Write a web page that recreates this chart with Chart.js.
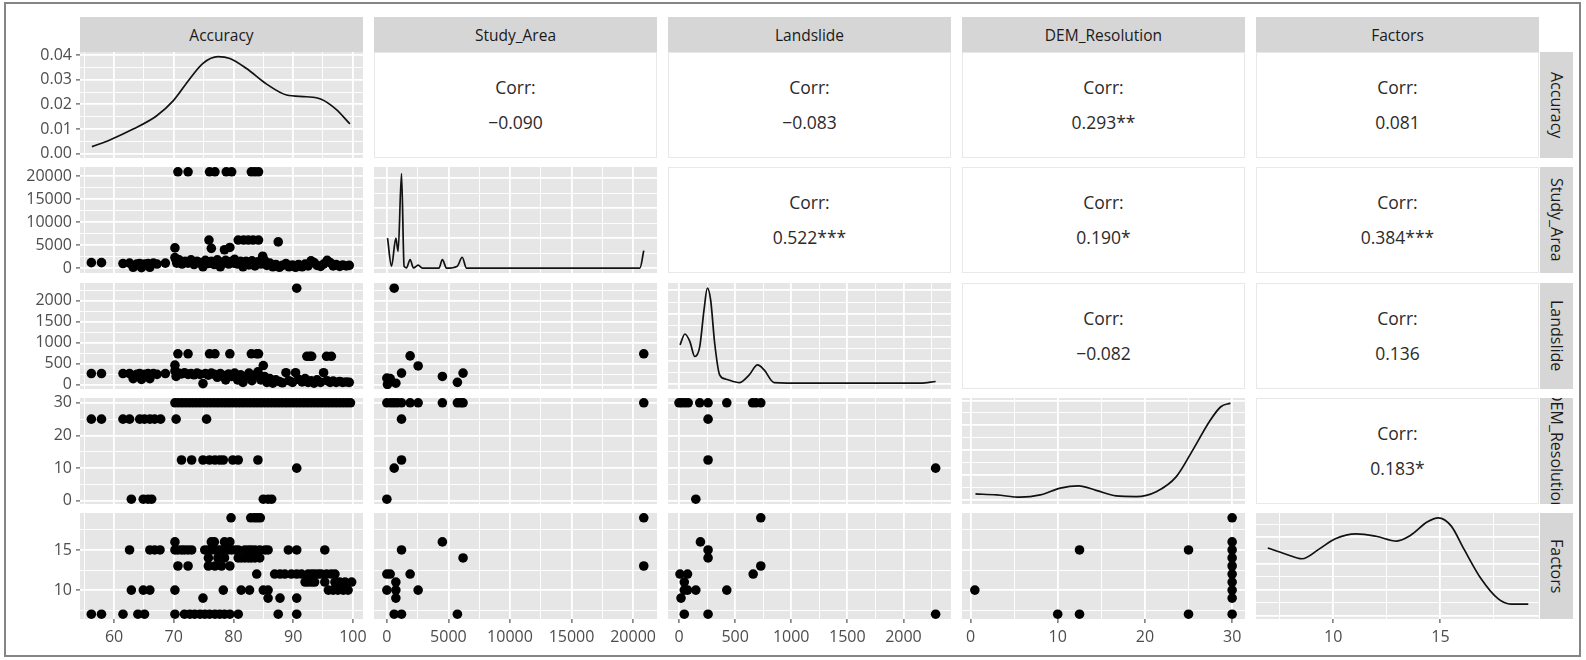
<!DOCTYPE html>
<html>
<head>
<meta charset="utf-8">
<script src="https://cdn.jsdelivr.net/npm/chart.js@4.4.1/dist/chart.umd.min.js"></script>
<style>
  body { margin: 0; width: 1586px; height: 660px; overflow: hidden; background: #fff; font-family: 'Open Sans', sans-serif; position: relative; }
  #frame { position: absolute; left: 4px; top: 2px; width: 1573px; height: 651px; border: 2px solid #858585; }
  .strip { position: absolute; background: #D6D6D6; color: #1a1a1a; font-size: 15.5px; display: flex; align-items: center; justify-content: center; overflow: hidden; white-space: nowrap; }
  .strip.side { writing-mode: vertical-rl; font-size: 16px; }
  .corr { position: absolute; box-sizing: border-box; background: #fff; border: 1px solid #e8e8e8; display: flex; flex-direction: column; align-items: center; justify-content: center; color: #2b2b2b; font-size: 17.5px; line-height: 35px; }
  canvas { position: absolute; }
</style>
</head>
<body>
<div id="frame"></div>
<script>
// ---- variables and axes ----
const varNames = ['Accuracy', 'Study_Area', 'Landslide', 'DEM_Resolution', 'Factors'];
const varRanges = [[54.3, 101.7], [-1045, 21945], [-98, 2424], [-0.975, 31.475], [6.4, 19.6]];
const majorTicks = [[60, 70, 80, 90, 100], [0, 5000, 10000, 15000, 20000], [0, 500, 1000, 1500, 2000], [0, 10, 20, 30], [10, 15]];
const minorTicks = [[55, 65, 75, 85, 95], [2500, 7500, 12500, 17500], [250, 750, 1250, 1750, 2250], [5, 15, 25], [7.5, 12.5, 17.5]];

// the first diagonal panel carries the density scale on the left
const densityRange = [-0.0017, 0.0412];
const densityMajor = [0, 0.01, 0.02, 0.03, 0.04];
const densityMinor = [0.005, 0.015, 0.025, 0.035];

// horizontal grid of the other diagonal panels, in row units
const diagMajor = [null, [0, 6500, 13000, 19500], [24, 580, 1136, 1692, 2248], [0.3, 7.9, 15.5, 23.1, 30.7], [6.8, 10.06, 13.32, 16.58]];
const diagMinor = [null, [3250, 9750, 16250], [302, 858, 1414, 1970], [4.1, 11.7, 19.3, 26.9], [8.43, 11.69, 14.95, 18.21]];

// ---- correlations (upper triangle) ----
const corrRow0 = [null, '−0.090', '−0.083', '0.293**', '0.081'];
const corrRow1 = [null, null, '0.522***', '0.190*', '0.384***'];
const corrRow2 = [null, null, null, '−0.082', '0.136'];
const corrRow3 = [null, null, null, null, '0.183*'];

// ---- density curves (diagonal), y in row units except the first ----
const accuracyDensity = [[56.3, 0.0029], [59.3, 0.0056], [63.2, 0.0100], [67.1, 0.0153], [69.9, 0.0214], [72.7, 0.0304], [74.9, 0.0366], [77.4, 0.0393], [79.4, 0.0386], [82.2, 0.0345], [85.5, 0.0283], [88.9, 0.0238], [92.2, 0.0231], [94.7, 0.0221], [97.2, 0.0180], [99.5, 0.0121]];
const studyDensity = [[54, 6500], [380, 430], [730, 6500], [915, 3650], [1190, 20500], [1400, 430], [1590, 70], [1890, 1870], [2160, 70], [2540, 650], [2890, 0], [4230, 0], [4510, 1870], [4850, 0], [5720, 430], [6120, 2370], [6470, 0], [20550, 0], [20870, 3800]];
const landslideDensity = [[9, 950], [53, 1210], [97, 1030], [141, 675], [185, 910], [223, 1785], [253, 2300], [282, 2020], [318, 990], [362, 240], [420, 135], [538, 55], [626, 240], [700, 475], [759, 355], [847, 55], [1126, 40], [2155, 40], [2287, 80]];
const demDensity = [[0.57, 2.1], [3.0, 1.8], [5.7, 1.1], [8.0, 1.8], [10.3, 3.9], [12.4, 4.6], [14.4, 3.2], [16.7, 1.5], [19.0, 1.3], [21.3, 2.8], [23.6, 7.4], [25.5, 15.6], [27.4, 24.3], [28.7, 28.8], [29.8, 29.9]];
const factorsDensity = [[6.95, 15.25], [7.77, 14.5], [8.55, 13.9], [9.34, 15.1], [10.1, 16.4], [11.07, 17.0], [12.0, 16.7], [12.96, 16.1], [13.6, 16.8], [14.4, 18.5], [14.9, 19.0], [15.5, 18.0], [16.1, 15.1], [16.9, 11.4], [17.7, 8.9], [18.3, 8.25], [19.1, 8.25]];

// ---- scatter panels (lower triangle), [x, y] ----
const studyVsAccuracy = [
  [56.2, 1200], [57.9, 1200], [61.5, 1000], [62.6, 1100], [63.2, 200], [63.8, 900], [64.3, 1000], [64.6, 100], [65.1, 900], [65.7, 1000], [66.0, 200], [66.6, 1100], [67.2, 900], [68.6, 1100],
  [70.2, 4400], [70.2, 2300], [70.4, 1700], [70.5, 1100], [70.9, 1800], [71.4, 900], [71.9, 1500], [72.4, 1100], [72.9, 1800], [73.4, 800], [73.9, 1500], [74.4, 1100], [74.9, 300], [75.3, 1700], [75.8, 1000], [76.3, 1500], [76.8, 800], [77.3, 1800], [77.8, 300], [78.2, 1200], [78.7, 1700], [79.2, 900], [79.7, 1500], [80.2, 1900], [80.7, 900], [81.2, 1500], [81.6, 300], [82.1, 1100], [82.6, 700], [83.1, 1600], [83.6, 500], [84.1, 1400], [84.6, 900], [84.9, 2600], [85.2, 1700],
  [71.1, 1200], [72.1, 1300], [73.1, 1200], [74.1, 1300], [75.1, 1200], [76.1, 1100], [77.1, 1200], [78.1, 1300], [79.1, 1200], [80.1, 1100], [81.1, 1000], [82.1, 1500], [83.1, 1000], [84.1, 1000],
  [70.7, 20900], [72.4, 20900], [76.0, 20900], [76.9, 20900], [78.8, 20900], [79.7, 20900], [83.0, 20900], [83.6, 20900], [84.2, 20900],
  [75.9, 6100], [76.3, 4300], [78.5, 4000], [79.4, 4500], [80.8, 6100], [81.7, 6100], [82.5, 6100], [83.3, 6100], [84.2, 6100], [87.5, 5700],
  [85.6, 600], [86.1, 1100], [86.6, 300], [87.1, 800], [87.7, 200], [88.2, 600], [88.8, 1000], [89.3, 300], [89.9, 700], [90.4, 200], [90.9, 800], [91.5, 300], [92.0, 900], [92.5, 500], [93.0, 1600], [93.5, 1200], [94.0, 600], [94.6, 400], [95.1, 900], [95.7, 1700], [96.2, 1200], [96.7, 500], [97.2, 800], [97.8, 400], [98.3, 700], [98.9, 500], [99.4, 600]
];
const landslideVsAccuracy = [
  [90.6, 2300],
  [70.7, 740], [72.4, 740], [76.0, 740], [76.9, 740], [79.4, 740], [83.0, 740], [83.9, 740], [84.2, 740],
  [92.3, 680], [92.8, 680], [93.1, 680], [95.6, 680], [96.4, 680], [70.2, 470], [85.0, 460],
  [56.2, 270], [57.9, 270], [61.5, 270], [62.6, 270], [63.2, 150], [63.8, 250], [64.3, 270], [64.6, 130], [65.1, 250], [65.7, 270], [66.0, 150], [66.6, 270], [67.2, 250], [68.6, 270],
  [70.2, 330], [70.4, 200], [70.8, 280], [71.3, 260], [71.8, 290], [72.4, 250], [72.9, 270], [73.4, 240], [73.9, 280], [74.4, 250], [74.9, 30], [75.3, 270], [75.8, 230], [76.3, 280], [76.8, 250], [77.3, 180], [77.8, 270], [78.2, 220], [78.7, 120], [79.2, 260], [79.7, 200], [80.2, 280], [80.7, 120], [81.2, 240], [81.6, 60], [82.1, 200], [82.6, 280], [83.1, 100], [83.6, 230], [84.1, 310], [84.6, 120],
  [85.2, 200], [85.6, 60], [86.1, 150], [86.6, 40], [87.1, 120], [87.7, 80], [88.2, 50], [88.8, 290], [89.3, 100], [89.9, 60], [90.4, 290], [90.9, 130], [91.5, 70], [92.0, 150], [92.5, 60], [93.0, 100], [93.5, 40], [94.0, 120], [94.6, 60], [95.1, 290], [95.7, 100], [96.2, 60], [96.7, 90], [97.2, 60], [97.8, 80], [98.3, 60], [98.9, 70], [99.4, 60]
];
const demVsAccuracy = [
  [70.2, 30], [70.8, 30], [71.4, 30], [72.0, 30], [72.6, 30], [73.2, 30], [73.8, 30], [74.4, 30], [75.0, 30], [75.6, 30], [76.2, 30], [76.8, 30], [77.4, 30], [78.0, 30], [78.6, 30], [79.2, 30], [79.8, 30], [80.4, 30], [81.0, 30], [81.6, 30], [82.2, 30], [82.8, 30], [83.4, 30], [84.0, 30], [84.6, 30],
  [85.2, 30], [85.8, 30], [86.4, 30], [87.0, 30], [87.6, 30], [88.2, 30], [88.8, 30], [89.4, 30], [90.0, 30], [90.6, 30], [91.2, 30], [91.8, 30], [92.4, 30], [93.0, 30], [93.6, 30], [94.2, 30], [94.8, 30], [95.4, 30], [96.0, 30], [96.6, 30], [97.2, 30], [97.8, 30], [98.4, 30], [99.0, 30], [99.6, 30],
  [56.2, 25], [57.9, 25], [61.5, 25], [62.6, 25], [64.3, 25], [65.1, 25], [66.0, 25], [66.8, 25], [67.8, 25], [70.4, 25], [75.5, 25],
  [71.3, 12.5], [73.0, 12.5], [74.9, 12.5], [76.0, 12.5], [76.9, 12.5], [77.7, 12.5], [78.3, 12.5], [79.9, 12.5], [80.8, 12.5], [84.1, 12.5],
  [90.6, 10],
  [62.9, 0.5], [64.9, 0.5], [65.7, 0.5], [66.3, 0.5], [85.0, 0.5], [85.8, 0.5], [86.4, 0.5]
];
const factorsVsAccuracy = [
  [79.6, 19], [82.9, 19], [83.5, 19], [84.0, 19], [84.5, 19],
  [70.2, 16], [76.3, 16], [76.8, 16], [78.5, 16], [79.4, 16],
  [62.6, 15], [66.0, 15], [66.8, 15], [67.7, 15], [70.2, 15], [70.7, 15], [71.3, 15], [71.8, 15], [72.4, 15], [73.0, 15], [75.2, 15], [75.8, 15], [76.3, 15], [76.9, 15], [77.5, 15], [78.0, 15], [78.6, 15], [79.1, 15], [79.7, 15], [80.3, 15], [80.8, 15], [81.9, 15], [82.5, 15], [83.0, 15], [83.6, 15], [84.4, 15], [85.3, 15], [85.8, 15], [89.2, 15], [90.6, 15], [95.3, 15],
  [75.8, 14], [77.4, 14], [78.5, 14], [80.8, 14], [81.3, 14], [81.9, 14], [82.5, 14], [83.0, 14], [83.6, 14], [84.4, 14],
  [70.7, 13], [72.4, 13], [75.8, 13], [76.9, 13], [78.0, 13], [79.4, 13],
  [83.9, 12], [86.9, 12], [87.8, 12], [88.6, 12], [89.7, 12], [90.6, 12], [91.4, 12], [92.5, 12], [93.1, 12], [93.6, 12], [94.2, 12], [94.7, 12], [95.6, 12], [96.4, 12], [97.0, 12],
  [92.0, 11], [92.5, 11], [93.1, 11], [93.6, 11], [95.3, 11], [97.0, 11], [97.8, 11], [98.7, 11], [99.8, 11],
  [62.9, 10], [64.9, 10], [66.0, 10], [70.2, 10], [78.3, 10], [81.3, 10], [82.7, 10], [85.0, 10], [85.8, 10], [95.9, 10], [96.7, 10], [97.5, 10], [98.4, 10], [99.2, 10],
  [74.9, 9], [85.8, 9], [87.8, 9], [90.6, 9],
  [56.2, 7], [57.9, 7], [61.5, 7], [64.0, 7], [65.1, 7], [70.2, 7], [71.8, 7], [72.7, 7], [73.5, 7], [74.4, 7], [75.2, 7], [76.0, 7], [76.9, 7], [77.7, 7], [78.5, 7], [79.4, 7], [80.8, 7], [87.5, 7], [90.6, 7]
];
const landslideVsStudy = [[595, 2300], [20870, 740], [1890, 690], [2540, 450], [1190, 280], [4510, 200], [6190, 280], [5730, 60], [0, 160], [190, 80], [730, 40], [270, 150], [50, 10]];
const demVsStudy = [[0, 30], [320, 30], [595, 30], [865, 30], [1190, 30], [1890, 30], [2540, 30], [4510, 30], [5730, 30], [6000, 30], [6190, 30], [20870, 30], [1190, 25], [1190, 12.5], [595, 10], [0, 0.5]];
const factorsVsStudy = [[20870, 19], [4510, 16], [1190, 15], [6190, 14], [20870, 13], [0, 12], [270, 12], [1890, 12], [730, 11], [0, 10], [730, 10], [2540, 10], [730, 9], [595, 7], [1190, 7], [5730, 7]];
const demVsLandslide = [[0, 30], [24, 30], [53, 30], [82, 30], [185, 30], [259, 30], [426, 30], [656, 30], [685, 30], [729, 30], [259, 25], [259, 12.5], [2287, 10], [150, 0.5]];
const factorsVsLandslide = [[729, 19], [191, 16], [259, 15], [259, 14], [729, 13], [661, 12], [9, 12], [76, 12], [47, 11], [47, 10], [76, 10], [150, 10], [426, 10], [18, 9], [47, 7], [259, 7], [2287, 7]];
const factorsVsDem = [[0.5, 10], [10, 7], [12.5, 15], [12.5, 7], [25, 15], [25, 7], [30, 19], [30, 16], [30, 15], [30, 14], [30, 13], [30, 12], [30, 11], [30, 10], [30, 9], [30, 7]];

const corrValues = [corrRow0, corrRow1, corrRow2, corrRow3];
const diagCurves = [accuracyDensity, studyDensity, landslideDensity, demDensity, factorsDensity];
const lowerPoints = {
  '1-0': studyVsAccuracy, '2-0': landslideVsAccuracy, '3-0': demVsAccuracy, '4-0': factorsVsAccuracy,
  '2-1': landslideVsStudy, '3-1': demVsStudy, '4-1': factorsVsStudy,
  '3-2': demVsLandslide, '4-2': factorsVsLandslide,
  '4-3': factorsVsDem
};

// ---- layout ----
const colLeft = [80, 374, 668, 962, 1256];
const rowTop = [52, 167, 283, 398, 513];
const panelW = 283, panelH = 106;
const M = 20, axisW = 80, axisH = 38;

Chart.defaults.font.family = "'Open Sans', sans-serif";

const panelBg = {
  id: 'panelBg',
  beforeDraw(chart) {
    const { ctx, chartArea: a } = chart;
    ctx.save();
    ctx.fillStyle = '#E6E6E6';
    ctx.fillRect(a.left, a.top, a.right - a.left, a.bottom - a.top);
    ctx.restore();
  }
};

function addDiv(cls, left, top, w, h, html) {
  const d = document.createElement('div');
  d.className = cls;
  d.style.left = left + 'px';
  d.style.top = top + 'px';
  d.style.width = w + 'px';
  d.style.height = h + 'px';
  d.innerHTML = html;
  document.body.appendChild(d);
  return d;
}

function axis(range, major, minor, showLabels, fmt, sizeKey, size) {
  const all = major.concat(minor).sort((a, b) => a - b);
  const isMajor = v => major.includes(v);
  return {
    type: 'linear',
    min: range[0],
    max: range[1],
    afterBuildTicks: s => { s.ticks = all.map(v => ({ value: v })); },
    afterFit: s => { s[sizeKey] = size; },
    ticks: {
      display: showLabels,
      autoSkip: false,
      maxRotation: 0,
      minRotation: 0,
      padding: sizeKey === 'width' ? 4 : 5,
      color: '#4d4d4d',
      font: { size: 16 },
      callback: v => isMajor(v) ? fmt(v) : ''
    },
    grid: {
      color: '#fff',
      lineWidth: c => (c.tick && isMajor(c.tick.value)) ? 1.8 : 0.9,
      drawTicks: showLabels,
      tickLength: 4,
      tickWidth: 1.1,
      tickColor: c => (c.tick && isMajor(c.tick.value)) ? '#444' : 'rgba(0,0,0,0)'
    },
    border: { display: false }
  };
}

function buildPanel(r, c) {
  const padL = c === 0 ? 0 : M;
  const yW = c === 0 ? axisW : 0;
  const xH = r === 4 ? axisH : 0;
  const cv = document.createElement('canvas');
  cv.width = padL + yW + panelW + M;
  cv.height = M + panelH + xH + M;
  cv.style.left = (colLeft[c] - yW - padL) + 'px';
  cv.style.top = (rowTop[r] - M) + 'px';
  document.body.appendChild(cv);

  const xAxis = axis(varRanges[c], majorTicks[c], minorTicks[c], r === 4, v => String(v), 'height', xH);
  let yAxis, dataset;
  if (r === c) {
    if (r === 0) {
      yAxis = axis(densityRange, densityMajor, densityMinor, true, v => v.toFixed(2), 'width', yW);
    } else {
      yAxis = axis(varRanges[r], diagMajor[r], diagMinor[r], false, v => String(v), 'width', yW);
    }
    dataset = {
      data: diagCurves[r].map(([x, y]) => ({ x, y })),
      showLine: true,
      pointRadius: 0,
      borderColor: '#111',
      borderWidth: 1.7,
      cubicInterpolationMode: 'monotone'
    };
  } else {
    yAxis = axis(varRanges[r], majorTicks[r], minorTicks[r], c === 0, v => String(v), 'width', yW);
    dataset = {
      data: lowerPoints[r + '-' + c].map(([x, y]) => ({ x, y })),
      pointRadius: 4.8,
      pointBackgroundColor: '#000',
      pointBorderWidth: 0
    };
  }

  new Chart(cv, {
    type: 'scatter',
    data: { datasets: [dataset] },
    options: {
      responsive: false,
      animation: false,
      layout: { padding: { left: padL, right: M, top: M, bottom: M } },
      plugins: { legend: { display: false }, tooltip: { enabled: false } },
      scales: { x: xAxis, y: yAxis }
    },
    plugins: [panelBg]
  });
}

// strips
varNames.forEach((name, i) => {
  addDiv('strip', colLeft[i], 17, panelW, 35, name);
  addDiv('strip side', 1540, rowTop[i], 33, panelH, name);
});

// panels
for (let r = 0; r < 5; r++) {
  for (let c = 0; c < 5; c++) {
    if (c > r) {
      addDiv('corr', colLeft[c], rowTop[r], panelW, panelH, '<div>Corr:</div><div>' + corrValues[r][c] + '</div>');
    } else {
      buildPanel(r, c);
    }
  }
}
</script>
</body>
</html>
